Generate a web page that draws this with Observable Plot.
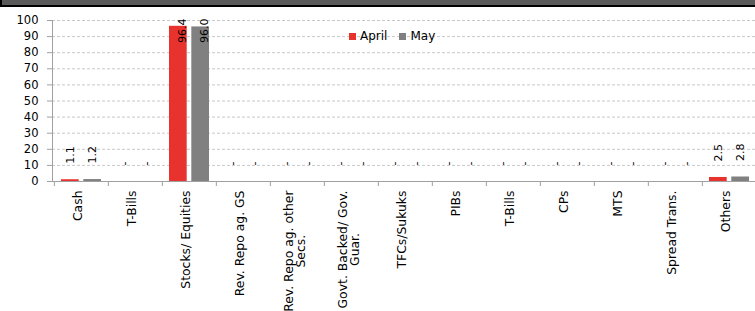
<!DOCTYPE html>
<html><head><meta charset="utf-8">
<script src="https://cdn.jsdelivr.net/npm/d3@7"></script>
<script src="https://cdn.jsdelivr.net/npm/@observablehq/plot@0.6"></script>
<style>
body{margin:0;background:#fff;font-family:"DejaVu Sans",sans-serif;}
#wrap{position:relative;width:755px;height:311px;overflow:hidden;background:#fff;}
#banner{height:5px;background:#5a5a5a;border-bottom:2px solid #000;border-left:2px solid #000;}
#legend{position:absolute;left:349px;top:29px;display:flex;align-items:center;font-size:12px;line-height:14px;color:#000;}
#legend .item{display:flex;align-items:center;margin-right:12px;}
#legend .sw{width:7px;height:7px;display:inline-block;margin-right:4px;}
</style></head><body>
<div id="wrap"><div id="banner"></div><div id="chart"></div><div id="legend"></div></div>
<script>
// ---- data ----
const categories = ["Cash","T-Bills","Stocks/ Equities","Rev. Repo ag. GS","Rev. Repo ag. other\nSecs.","Govt. Backed/ Gov.\nGuar.","TFCs/Sukuks","PIBs","T-Bills","CPs","MTS","Spread Trans.","Others"];
const april = [1.1,0,96.4,0,0,0,0,0,0,0,0,0,2.5];
const may   = [1.2,0,96.0,0,0,0,0,0,0,0,0,0,2.8];
const series = ["April","May"];
const colors = ["#e8322e","#808080"];
const yTicks = [0,10,20,30,40,50,60,70,80,90,100];

// ---- layout ----
const W = 755, H = 304;
const mTop = 13, mBottom = 130, mLeft = 52;
const xRange = [52, 758];
const bw = (xRange[1]-xRange[0]) / categories.length;
const outer = 7, barW = 18;
const offA = outer + barW/2 - bw/2;
const offM = bw - outer - barW/2 - bw/2;

const data = categories.map((c,i)=>({i, cat:c, april:april[i], may:may[i]}));
const fmt = v => v === 0 ? "-" : v.toFixed(1);

const ctx = document.createElement("canvas").getContext("2d");
const xFont = 12.4, lineGap = 11.7;
ctx.font = `${xFont}px "DejaVu Sans"`;
const singles = data.filter(d => !d.cat.includes("\n"));
const multis = data.filter(d => d.cat.includes("\n"));

const labelMarks = (key, off) => [
  Plot.text(data.filter(d => d[key] < 80), {x:"i", y:key, text:d=>fmt(d[key]), rotate:-90, textAnchor:"start", dy:-16, dx:off, fontSize:11, fill:"#000"}),
  Plot.text(data.filter(d => d[key] >= 80), {x:"i", text:d=>fmt(d[key]), frameAnchor:"top", rotate:-90, textAnchor:"end", dy:-2, dx:off, fontSize:11, fill:"#000"})
];

// multi-line category labels: lines centred on each other, block top-aligned below the axis
const multiMarks = multis.flatMap(d => {
  const lines = d.cat.split("\n");
  const widths = lines.map(s => ctx.measureText(s).width);
  const maxW = d3.max(widths);
  return lines.map((s, j) => Plot.text([d], {
    x:"i", text:() => s, frameAnchor:"bottom", rotate:-90, textAnchor:"end",
    dy: 9 + (maxW - widths[j]) / 2,
    dx: (j - (lines.length - 1) / 2) * lineGap + 1.5,
    fontSize:xFont, fill:"#000"
  }));
});

const chart = Plot.plot({
  width: W, height: H,
  marginTop: mTop, marginBottom: mBottom, marginLeft: mLeft, marginRight: 0,
  style: {fontFamily:'"DejaVu Sans", sans-serif', background:"#fff", overflow:"visible"},
  x: {type:"band", domain: d3.range(categories.length), range: xRange, padding: 0, axis: null, label: null},
  y: {domain:[0,100], axis: null, label: null},
  marks: [
    Plot.gridY(yTicks.slice(1), {stroke:"#c8c8c8", strokeOpacity:1, strokeDasharray:"3,2"}),
    Plot.barY(data, {x:"i", y:"april", fill:colors[0], insetLeft: outer, insetRight: bw - outer - barW}),
    Plot.barY(data, {x:"i", y:"may", fill:colors[1], insetLeft: bw - outer - barW, insetRight: outer}),
    Plot.ruleY([0], {stroke:"#a0a0a0"}),
    Plot.frame({anchor:"left", stroke:"#a0a0a0"}),
    Plot.axisY({ticks: yTicks, tickSize:5, tickPadding:9, stroke:"#a0a0a0", fill:"#000", fontSize:11.5, label:null}),
    Plot.axisX({tickSize:5, dx:-bw/2, tickFormat:()=>"", stroke:"#a0a0a0", label:null}),
    Plot.text(singles, {x:"i", text:"cat", frameAnchor:"bottom", rotate:-90, textAnchor:"end", dy:9, fontSize:xFont, fill:"#000"}),
    ...multiMarks,
    ...labelMarks("april", offA),
    ...labelMarks("may", offM)
  ]
});
document.getElementById("chart").appendChild(chart);

const legend = document.getElementById("legend");
series.forEach((s,k)=>{
  const it = document.createElement("span"); it.className="item";
  const sw = document.createElement("span"); sw.className="sw"; sw.style.background = colors[k];
  it.appendChild(sw); it.appendChild(document.createTextNode(s));
  legend.appendChild(it);
});
</script>
</body></html>
